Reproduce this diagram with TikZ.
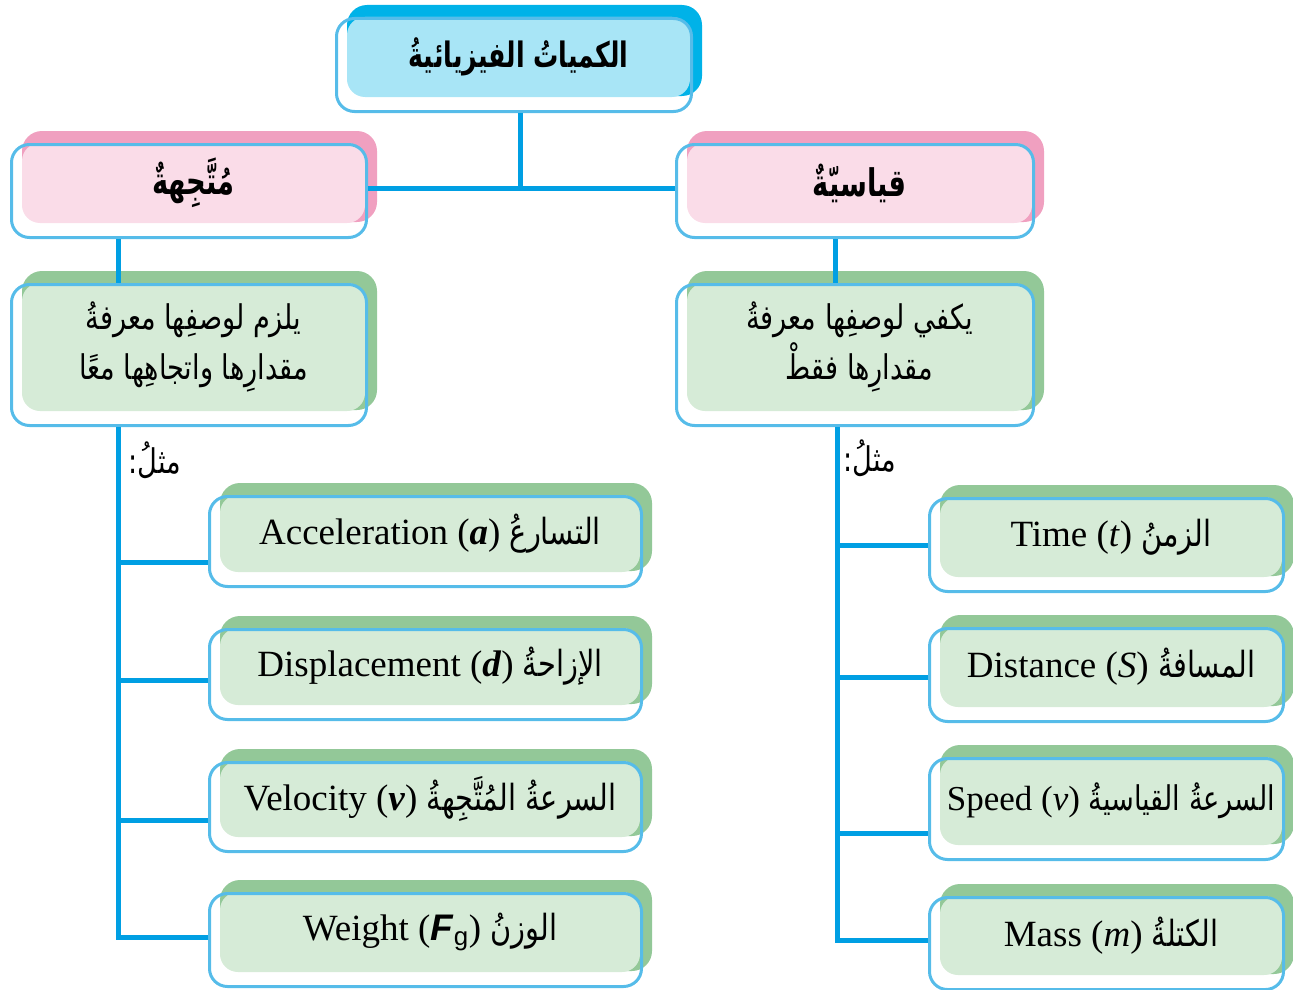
\documentclass[tikz,border=0pt]{standalone}
\usepackage{fontspec}
\setmainfont{Liberation Serif}
\setsansfont{Liberation Sans}
\newfontfamily\ar[Script=Arabic,FakeStretch=0.8]{DejaVu Sans}
\newfontfamily\arc[Script=Arabic,FakeStretch=0.72]{DejaVu Sans}
\TeXXeTstate=1
\definecolor{bluedark}{RGB}{0,178,232}
\definecolor{bluelight}{RGB}{168,229,246}
\definecolor{pinkdark}{RGB}{240,160,192}
\definecolor{pinklight}{RGB}{250,220,232}
\definecolor{greendark}{RGB}{147,200,152}
\definecolor{greenlight}{RGB}{214,235,215}
\definecolor{outl}{RGB}{86,188,233}
\definecolor{connc}{RGB}{0,159,227}
\newcommand\layerbox[9]{%
  \fill[#6,rounded corners=20pt] (#2+12,#3-12) rectangle (#4+12,#5-14);
  \fill[#7,rounded corners=18pt] (#2+12,#3) rectangle (#4,#5-13);
  \node[outlinebox,anchor=north west,minimum width={#4-#2},minimum height={#5-#3}] (#1) at (#2,#3) {};
  \node[boxtext,#8] (#1t) at ({(#2+12+#4)/2},{(#3+#5-13)/2}) {#9};
}
\begin{document}
\begin{tikzpicture}[x=1pt,y=-1pt,
  outlinebox/.style={draw=outl,line width=3pt,rounded corners=18pt,inner sep=0pt},
  boxtext/.style={inner sep=0pt,align=center,font=\fontsize{37}{42}\selectfont},
  conn/.style={draw=connc,line width=5pt},
  title font/.style={font=\arc\bfseries\fontsize{35}{40}\selectfont},
  kind font/.style={font=\arc\bfseries\fontsize{38}{44}\selectfont},
  desc font/.style={font=\ar\fontsize{34}{50}\selectfont},
  ex font/.style={font=\fontsize{37}{42}\selectfont},
  small ex font/.style={font=\fontsize{35}{40}\selectfont}]
\newcommand\art[1]{{\ar\fontsize{36}{42}\selectfont\beginR #1\endR}}
\newcommand\artsmall[1]{{\ar\fontsize{34}{40}\selectfont\beginR #1\endR}}
\useasboundingbox (0,0) rectangle (1293,990);
% title
\layerbox{title}{335}{17}{690}{110}{bluedark}{bluelight}{title font}{\beginR الكمياتُ الفيزيائيةُ\endR}
% second level
\layerbox{vec}{10}{143}{365}{236}{pinkdark}{pinklight}{kind font}{\beginR مُتَّجِهةٌ\endR}
\layerbox{sca}{675}{143}{1032}{236}{pinkdark}{pinklight}{kind font}{\beginR قياسيّةٌ\endR}
% descriptions
\layerbox{vdesc}{10}{283}{365}{424}{greendark}{greenlight}{desc font}{\beginR يلزم لوصفِها معرفةُ\endR\\\beginR مقدارِها واتجاهِها معًا\endR}
\layerbox{sdesc}{675}{283}{1032}{424}{greendark}{greenlight}{desc font}{\beginR يكفي لوصفِها معرفةُ\endR\\\beginR مقدارِها فقطْ\endR}
% vector examples
\layerbox{ex1}{208}{495}{640}{585}{greendark}{greenlight}{ex font}{Acceleration (\textbf{\textit{a}}) \art{التسارعُ}}
\layerbox{ex2}{208}{628}{640}{718}{greendark}{greenlight}{ex font}{Displacement (\textbf{\textit{d}}) \art{الإزاحةُ}}
\layerbox{ex3}{208}{761}{640}{850}{greendark}{greenlight}{ex font}{Velocity (\textbf{\textit{v}}) \art{السرعةُ المُتَّجِهةُ}}
\layerbox{ex4}{208}{892}{640}{985}{greendark}{greenlight}{ex font}{Weight (\textsf{\textbf{\textit{F}}}\textsubscript{\textsf{g}}) \art{الوزنُ}}
% scalar examples
\layerbox{ey1}{928}{497}{1282}{590}{greendark}{greenlight}{ex font}{Time (\textit{t}) \art{الزمنُ}}
\layerbox{ey2}{928}{627}{1282}{720}{greendark}{greenlight}{ex font}{Distance (\textit{S}) \art{المسافةُ}}
\layerbox{ey3}{928}{757}{1282}{858}{greendark}{greenlight}{small ex font}{Speed (\textit{v}) \artsmall{السرعةُ القياسيةُ}}
\layerbox{ey4}{928}{896}{1282}{988}{greendark}{greenlight}{ex font}{Mass (\textit{m}) \art{الكتلةُ}}
% "for example" labels
\node[font=\ar\fontsize{34}{40}\selectfont,inner sep=0pt] (lex) at (155,460) {\beginR مثلُ:\endR};
\node[font=\ar\fontsize{34}{40}\selectfont,inner sep=0pt] (rex) at (870,458) {\beginR مثلُ:\endR};
% connector coordinates
\coordinate (j) at (520,188);
\coordinate (lx) at (118,0);
\coordinate (rx) at (835,0);
\coordinate (la1) at (118,562);
\coordinate (la2) at (118,680);
\coordinate (la3) at (118,820);
\coordinate (la4) at (118,937);
\coordinate (ra1) at (837,545);
\coordinate (ra2) at (837,677);
\coordinate (ra3) at (837,833);
\coordinate (ra4) at (837,940);
% connectors
\draw[conn] (title.south -| j) -- (j);
\draw[conn] (vec.east |- j) -- (sca.west |- j);
\draw[conn] (vec.south -| lx) -- (vdesc.north -| lx);
\draw[conn] (sca.south -| rx) -- (sdesc.north -| rx);
\draw[conn] (vdesc.south -| la4) -- (la4) -- (la4 -| ex4.west);
\draw[conn] (la1) -- (la1 -| ex1.west);
\draw[conn] (la2) -- (la2 -| ex2.west);
\draw[conn] (la3) -- (la3 -| ex3.west);
\draw[conn] (sdesc.south -| ra4) -- (ra4) -- (ra4 -| ey4.west);
\draw[conn] (ra1) -- (ra1 -| ey1.west);
\draw[conn] (ra2) -- (ra2 -| ey2.west);
\draw[conn] (ra3) -- (ra3 -| ey3.west);
\end{tikzpicture}
\end{document}
